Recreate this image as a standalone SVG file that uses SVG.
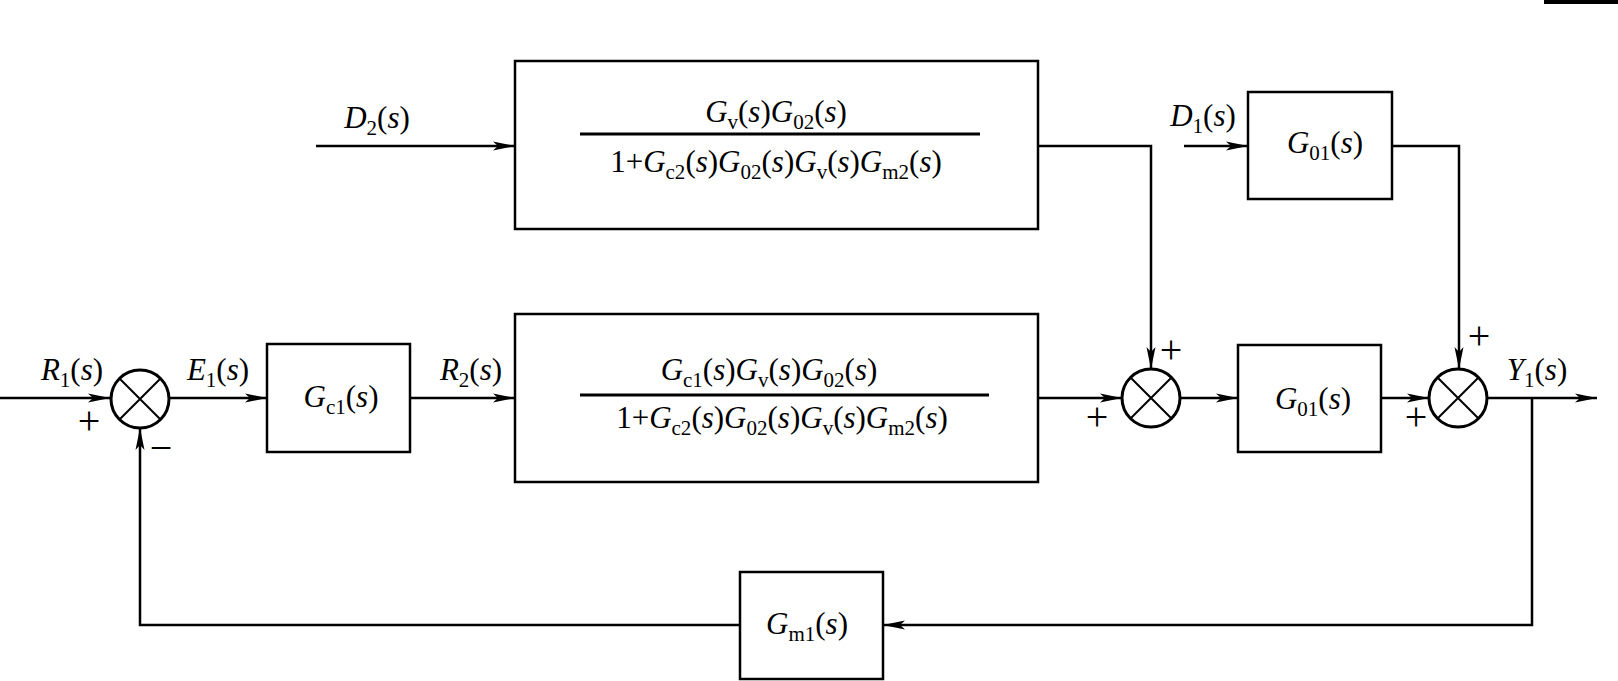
<svg xmlns="http://www.w3.org/2000/svg" width="1618" height="681" viewBox="0 0 1618 681">
<defs>
<marker id="arr" markerUnits="userSpaceOnUse" markerWidth="22" markerHeight="10" viewBox="0 0 22 10" refX="22" refY="5" orient="auto">
<path d="M0,0.5 L22,5 L0,9.5 L5,5 z" fill="#000"/>
</marker>
<style>
.box{fill:#fff;stroke:#000;stroke-width:2.5}
.sum{fill:#fff;stroke:#000;stroke-width:3}
.x{stroke:#000;stroke-width:2}
.ln{fill:none;stroke:#000;stroke-width:2.5}
.ar{marker-end:url(#arr)}
.frac{stroke:#000;stroke-width:3}
text{font-family:"Liberation Serif","Times New Roman",serif;font-size:31px;fill:#000;text-anchor:middle}
.i{font-style:italic}
.sb{font-size:21px}
.pm{font-size:40px}
</style>
</defs>
<rect x="1544" y="0" width="74" height="4" fill="#000"/>
<g id="connectors">
<path class="ln ar" d="M0,398 H110"/>
<path class="ln ar" d="M170,398 H267"/>
<path class="ln ar" d="M410,398 H515"/>
<path class="ln ar" d="M1038,398 H1122"/>
<path class="ln ar" d="M1180,398 H1238"/>
<path class="ln ar" d="M1381,398 H1429"/>
<path class="ln ar" d="M1487,398 H1597"/>
<path class="ln ar" d="M1532,398 V625 H883"/>
<path class="ln ar" d="M740,625 H140 V428"/>
<path class="ln ar" d="M316,146 H515"/>
<path class="ln ar" d="M1038,146 H1151 V369"/>
<path class="ln ar" d="M1184,146 H1248"/>
<path class="ln ar" d="M1392,146 H1459 V369"/>
</g>
<g id="sum1">
<circle class="sum" cx="140" cy="399" r="29"/>
<path class="x" d="M119.5,378.5 L160.5,419.5 M160.5,378.5 L119.5,419.5"/>
<text class="pm" x="89" y="434">+</text>
<text class="pm" x="161" y="461">−</text>
</g>
<g id="sum2">
<circle class="sum" cx="1151" cy="398" r="29"/>
<path class="x" d="M1130.5,377.5 L1171.5,418.5 M1171.5,377.5 L1130.5,418.5"/>
<text class="pm" x="1171" y="363">+</text>
<text class="pm" x="1097" y="430">+</text>
</g>
<g id="sum3">
<circle class="sum" cx="1458" cy="398" r="29"/>
<path class="x" d="M1437.5,377.5 L1478.5,418.5 M1478.5,377.5 L1437.5,418.5"/>
<text class="pm" x="1479" y="349">+</text>
<text class="pm" x="1416" y="430">+</text>
</g>
<g id="labels">
<text x="72" y="380"><tspan class="i">R</tspan><tspan class="sb" dy="7">1</tspan><tspan dy="-7">(</tspan><tspan class="i">s</tspan>)</text>
<text x="218" y="380"><tspan class="i">E</tspan><tspan class="sb" dy="7">1</tspan><tspan dy="-7">(</tspan><tspan class="i">s</tspan>)</text>
<text x="471" y="380"><tspan class="i">R</tspan><tspan class="sb" dy="7">2</tspan><tspan dy="-7">(</tspan><tspan class="i">s</tspan>)</text>
<text x="377" y="128"><tspan class="i">D</tspan><tspan class="sb" dy="7">2</tspan><tspan dy="-7">(</tspan><tspan class="i">s</tspan>)</text>
<text x="1203" y="126"><tspan class="i">D</tspan><tspan class="sb" dy="7">1</tspan><tspan dy="-7">(</tspan><tspan class="i">s</tspan>)</text>
<text x="1537" y="380"><tspan class="i">Y</tspan><tspan class="sb" dy="7">1</tspan><tspan dy="-7">(</tspan><tspan class="i">s</tspan>)</text>
</g>
<g id="Gc1">
<rect class="box" x="267" y="344" width="143" height="108"/>
<text x="341" y="407"><tspan class="i">G</tspan><tspan class="sb" dy="7">c1</tspan><tspan dy="-7">(</tspan><tspan class="i">s</tspan>)</text>
</g>
<g id="upperBlock">
<rect class="box" x="515" y="61" width="523" height="168"/>
<line class="frac" x1="580" y1="134" x2="980" y2="134"/>
<text x="776" y="122"><tspan class="i">G</tspan><tspan class="sb" dy="7">v</tspan><tspan dy="-7">(</tspan><tspan class="i">s</tspan>)<tspan class="i">G</tspan><tspan class="sb" dy="7">02</tspan><tspan dy="-7">(</tspan><tspan class="i">s</tspan>)</text>
<text x="776" y="172">1+<tspan class="i">G</tspan><tspan class="sb" dy="7">c2</tspan><tspan dy="-7">(</tspan><tspan class="i">s</tspan>)<tspan class="i">G</tspan><tspan class="sb" dy="7">02</tspan><tspan dy="-7">(</tspan><tspan class="i">s</tspan>)<tspan class="i">G</tspan><tspan class="sb" dy="7">v</tspan><tspan dy="-7">(</tspan><tspan class="i">s</tspan>)<tspan class="i">G</tspan><tspan class="sb" dy="7">m2</tspan><tspan dy="-7">(</tspan><tspan class="i">s</tspan>)</text>
</g>
<g id="lowerBlock">
<rect class="box" x="515" y="314" width="523" height="168"/>
<line class="frac" x1="580" y1="395" x2="989" y2="395"/>
<text x="769" y="380"><tspan class="i">G</tspan><tspan class="sb" dy="7">c1</tspan><tspan dy="-7">(</tspan><tspan class="i">s</tspan>)<tspan class="i">G</tspan><tspan class="sb" dy="7">v</tspan><tspan dy="-7">(</tspan><tspan class="i">s</tspan>)<tspan class="i">G</tspan><tspan class="sb" dy="7">02</tspan><tspan dy="-7">(</tspan><tspan class="i">s</tspan>)</text>
<text x="782" y="428">1+<tspan class="i">G</tspan><tspan class="sb" dy="7">c2</tspan><tspan dy="-7">(</tspan><tspan class="i">s</tspan>)<tspan class="i">G</tspan><tspan class="sb" dy="7">02</tspan><tspan dy="-7">(</tspan><tspan class="i">s</tspan>)<tspan class="i">G</tspan><tspan class="sb" dy="7">v</tspan><tspan dy="-7">(</tspan><tspan class="i">s</tspan>)<tspan class="i">G</tspan><tspan class="sb" dy="7">m2</tspan><tspan dy="-7">(</tspan><tspan class="i">s</tspan>)</text>
</g>
<g id="G01upper">
<rect class="box" x="1248" y="92" width="144" height="107"/>
<text x="1325" y="153"><tspan class="i">G</tspan><tspan class="sb" dy="7">01</tspan><tspan dy="-7">(</tspan><tspan class="i">s</tspan>)</text>
</g>
<g id="G01lower">
<rect class="box" x="1238" y="345" width="143" height="107"/>
<text x="1313" y="409"><tspan class="i">G</tspan><tspan class="sb" dy="7">01</tspan><tspan dy="-7">(</tspan><tspan class="i">s</tspan>)</text>
</g>
<g id="Gm1">
<rect class="box" x="740" y="572" width="143" height="107"/>
<text x="807" y="634"><tspan class="i">G</tspan><tspan class="sb" dy="7">m1</tspan><tspan dy="-7">(</tspan><tspan class="i">s</tspan>)</text>
</g>
</svg>
